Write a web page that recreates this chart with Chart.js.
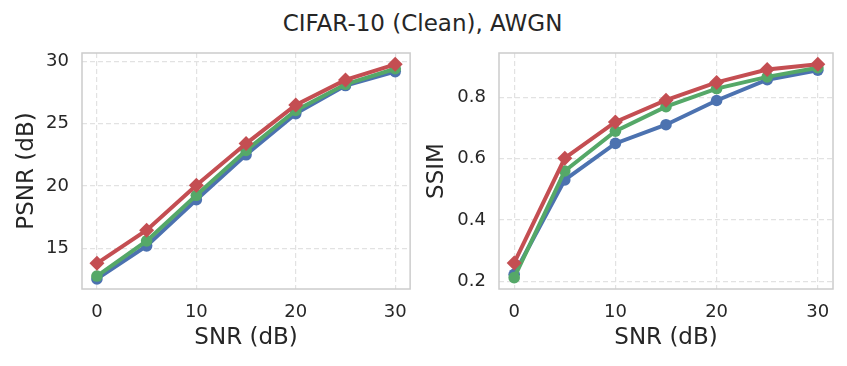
<!DOCTYPE html>
<html>
<head>
<meta charset="utf-8">
<script src="https://cdn.jsdelivr.net/npm/chart.js@4.4.0/dist/chart.umd.min.js"></script>
<style>
  html, body { margin: 0; padding: 0; background: #ffffff; }
  #wrap { position: relative; width: 847px; height: 366px; overflow: hidden; }
  #title { position: absolute; left: 0; top: 9px; width: 845px; text-align: center;
           font-family: "DejaVu Sans", sans-serif; font-size: 23px; color: #262626; line-height: 28px; }
  #c1 { position: absolute; left: 0; top: 0; }
  #c2 { position: absolute; left: 420px; top: 0; }
</style>
</head>
<body>
<div id="wrap">
  <div id="title">CIFAR-10 (Clean), AWGN</div>
  <canvas id="c1" width="420" height="366"></canvas>
  <canvas id="c2" width="427" height="366"></canvas>
</div>
<script>
// ---- data ----
const snr = [0, 5, 10, 15, 20, 25, 30];
const xTicks = [0, 10, 20, 30];

const psnrBlue  = [12.55, 15.2, 18.9, 22.5, 25.8, 28.05, 29.17];
const psnrGreen = [12.78, 15.6, 19.25, 22.85, 26.05, 28.15, 29.4];
const psnrRed   = [13.8, 16.45, 20.06, 23.4, 26.5, 28.5, 29.75];
const psnrTicks = [15, 20, 25, 30];

const ssimBlue  = [0.223, 0.531, 0.65, 0.711, 0.79, 0.858, 0.889];
const ssimGreen = [0.212, 0.56, 0.69, 0.77, 0.829, 0.867, 0.897];
const ssimRed   = [0.26, 0.602, 0.72, 0.791, 0.849, 0.891, 0.908];
const ssimTicks = [0.2, 0.4, 0.6, 0.8];

const colors = { blue: '#4C72B0', green: '#55A868', red: '#C44E52' };
const textColor = '#262626';
const fontFamily = '"DejaVu Sans", sans-serif';

function pts(arr) { return snr.map((x, i) => ({ x: x, y: arr[i] })); }

function ds(arr, color, shape, radius, order) {
  return {
    data: pts(arr),
    borderColor: color,
    backgroundColor: color,
    pointBackgroundColor: color,
    pointBorderColor: color,
    pointBorderWidth: 0,
    pointStyle: shape,
    pointRadius: radius,
    borderWidth: 4,
    tension: 0,
    order: order,
    clip: false
  };
}

const framePlugin = {
  id: 'frame',
  beforeDatasetsDraw(chart) {
    const a = chart.chartArea, ctx = chart.ctx;
    ctx.save();
    ctx.strokeStyle = '#cccccc';
    ctx.lineWidth = 1.5;
    ctx.setLineDash([]);
    ctx.strokeRect(a.left, a.top, a.right - a.left, a.bottom - a.top);
    ctx.restore();
  }
};

function makeChart(id, cfg) {
  return new Chart(document.getElementById(id), {
    type: 'line',
    data: { datasets: [
      ds(cfg.blue, colors.blue, 'circle', 5.8, 3),
      ds(cfg.green, colors.green, 'circle', 5.8, 2),
      ds(cfg.red, colors.red, 'rectRot', 7.5, 1)
    ] },
    options: {
      responsive: false,
      animation: false,
      events: [],
      layout: { padding: { top: 53, right: cfg.padRight, left: 0, bottom: 0 } },
      plugins: { legend: { display: false }, tooltip: { enabled: false }, title: { display: false } },
      scales: {
        x: {
          type: 'linear',
          min: -1.5, max: 31.5,
          afterFit: s => { s.height = 77; },
          afterBuildTicks: s => { s.ticks = xTicks.map(v => ({ value: v })); },
          grid: { color: '#e2e2e2', lineWidth: 1.2, drawTicks: false },
          border: { display: false, dash: [5, 3] },
          ticks: { color: textColor, font: { family: fontFamily, size: 18 }, padding: 13, maxRotation: 0 },
          title: { display: true, text: 'SNR (dB)', color: textColor,
                   font: { family: fontFamily, size: 23 }, padding: { top: 0, bottom: 14 } }
        },
        y: {
          type: 'linear',
          min: cfg.ymin, max: cfg.ymax,
          afterFit: s => { s.width = cfg.yWidth; },
          afterBuildTicks: s => { s.ticks = cfg.yTicks.map(v => ({ value: v })); },
          grid: { color: '#e2e2e2', lineWidth: 1.2, drawTicks: false },
          border: { display: false, dash: [5, 3] },
          ticks: { color: textColor, font: { family: fontFamily, size: 18 }, padding: 13,
                   callback: v => cfg.fmt(v) },
          title: { display: true, text: cfg.yLabel, color: textColor,
                   font: { family: fontFamily, size: 23 }, padding: { top: cfg.titlePad, bottom: 0 } }
        }
      }
    },
    plugins: [framePlugin]
  });
}

makeChart('c1', {
  blue: psnrBlue, green: psnrGreen, red: psnrRed,
  ymin: 11.74, ymax: 30.66, yTicks: psnrTicks, yWidth: 82, padRight: 4,
  yLabel: 'PSNR (dB)', titlePad: 13, fmt: v => String(v)
});
makeChart('c2', {
  blue: ssimBlue, green: ssimGreen, red: ssimRed,
  ymin: 0.175, ymax: 0.945, yTicks: ssimTicks, yWidth: 79, padRight: 14,
  yLabel: 'SSIM', titlePad: 3, fmt: v => v.toFixed(1)
});
</script>
</body>
</html>
